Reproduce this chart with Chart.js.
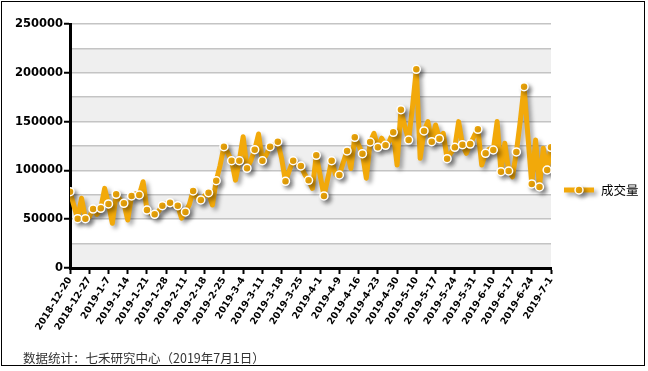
<!DOCTYPE html>
<html><head><meta charset="utf-8">
<script src="https://cdn.jsdelivr.net/npm/chart.js@4/dist/chart.umd.min.js"></script>
<style>
html,body{margin:0;padding:0;background:#fff;}
#wrap{position:relative;width:648px;height:371px;}
#frame{position:absolute;left:1px;top:1px;width:642px;height:363px;border:1px solid #000;pointer-events:none;}
#foot{position:absolute;left:23px;top:348px;font:12.5px "Noto Sans CJK SC","Liberation Sans",sans-serif;color:#333;white-space:nowrap;}
canvas{position:absolute;left:0;top:0;}
</style></head>
<body><div id="wrap"><canvas id="c" width="648" height="371"></canvas><div id="frame"></div>
<div id="foot">数据统计：七禾研究中心（2019年7月1日）</div></div>
<script>
const seriesName = '成交量';
const tickLabels = ['2018-12-20','2018-12-27','2019-1-7','2019-1-14','2019-1-21','2019-1-28','2019-2-11','2019-2-18','2019-2-25','2019-3-4','2019-3-11','2019-3-18','2019-3-25','2019-4-1','2019-4-9','2019-4-16','2019-4-23','2019-4-30','2019-5-10','2019-5-17','2019-5-24','2019-5-31','2019-6-10','2019-6-17','2019-6-24','2019-7-1'];
const volume = [
78200,64000,50500,71400,50500,52000,60400,55000,61200,81600,
65600,45800,75500,70000,66300,49200,73800,76000,74800,88400,
59400,56000,55000,58000,63800,66000,66900,64000,63800,51000,
57400,65000,78900,72000,69700,74000,77200,64500,89400,105000,
124300,118000,109900,90000,109900,134500,102100,110000,121200,137300,
109900,116000,124300,126000,129400,112000,88800,100000,109900,106000,
104500,96000,89800,81600,115400,95000,73800,92000,109900,96000,
95300,108000,119900,102000,133900,126000,117100,92000,129100,138000,
123600,133000,125700,130000,139000,105500,162200,145000,131100,165000,
203600,112400,140400,150000,129400,146500,132500,138000,112000,118000,
123600,150000,126300,117500,127000,135000,142100,105500,117500,122000,
120900,150000,98700,127800,99400,93500,118900,150000,185800,135000,
86100,131100,83000,122600,100400,123700];
const yTicks = [0,50000,100000,150000,200000,250000];

const ORANGE = '#F2A90A';
const lastIdx = volume.length - 1;
const points = volume.map((v,i)=>({x:i,y:v}));

const bands = {
  id:'bands',
  beforeDraw(chart){
    const {ctx, chartArea:a, scales:{y}} = chart;
    ctx.save();
    ctx.fillStyle = '#EFEFEF';
    for (let v=0; v<250000; v+=50000){
      const t = y.getPixelForValue(v+25000), b = y.getPixelForValue(v);
      ctx.fillRect(a.left, t, a.right-a.left, b-t);
    }
    ctx.restore();
  }
};
const shadow = {
  id:'shadow',
  beforeDatasetDraw(chart){
    const c = chart.ctx; c.save();
    c.shadowColor='rgba(0,0,0,0.35)'; c.shadowBlur=4; c.shadowOffsetX=3; c.shadowOffsetY=3;
  },
  afterDatasetDraw(chart){ chart.ctx.restore(); }
};
const legendPlug = {
  id:'legendPlug',
  afterDraw(chart){
    const c = chart.ctx; c.save();
    c.shadowColor='rgba(0,0,0,0.35)'; c.shadowBlur=4; c.shadowOffsetX=3; c.shadowOffsetY=3;
    c.strokeStyle=ORANGE; c.lineWidth=5; c.lineCap='butt';
    c.beginPath(); c.moveTo(564,190); c.lineTo(594,190); c.stroke();
    c.beginPath(); c.arc(579,190,4,0,Math.PI*2); c.fillStyle=ORANGE; c.fill();
    c.lineWidth=1.5; c.strokeStyle='#fff'; c.stroke();
    c.restore();
    c.save();
    c.font='12.5px "Noto Sans CJK SC", sans-serif'; c.fillStyle='#000'; c.textBaseline='middle';
    c.fillText(seriesName, 601, 190);
    c.restore();
  }
};

new Chart(document.getElementById('c'), {
  type:'line',
  data:{ datasets:[{
    label: seriesName,
    data: points,
    borderColor: ORANGE,
    borderWidth: 5,
    borderJoinStyle: 'round',
    borderCapStyle: 'round',
    tension: 0,
    pointBackgroundColor: ORANGE,
    pointBorderColor: '#fff',
    pointBorderWidth: 1.5,
    pointRadius: ctx => (ctx.dataIndex % 2 === 0 || ctx.dataIndex === lastIdx) ? 4 : 0,
    fill:false
  }]},
  options:{
    responsive:false, animation:false, events:[],
    layout:{padding:{top:24,right:97,left:0,bottom:0}},
    plugins:{legend:{display:false}, tooltip:{enabled:false}},
    scales:{
      x:{
        type:'linear', min:0, max:lastIdx,
        afterFit: s => { s.height = 103; },
        afterBuildTicks: s => { s.ticks = tickLabels.map((_,k)=>({value:k*5})); },
        ticks:{ autoSkip:false, minRotation:58, maxRotation:58, padding:1,
          color:'#000', font:{family:'"DejaVu Sans", Verdana, sans-serif', size:9.5, weight:'bold'},
          callback: v => tickLabels[Math.round(v/5)] },
        grid:{ drawOnChartArea:false, drawTicks:true, tickLength:6, tickColor:'#000', tickWidth:2 },
        border:{ display:true, color:'#000', width:3 }
      },
      y:{
        min:0, max:250000,
        afterFit: s => { s.width = 70; },
        afterBuildTicks: s => { const t=[]; for(let v=0; v<=250000; v+=25000) t.push({value:v}); s.ticks=t; },
        ticks:{ autoSkip:false, padding:1, color:'#000',
          font:{family:'"DejaVu Sans", Verdana, sans-serif', size:11.5, weight:'bold'},
          callback: v => yTicks.includes(v) ? String(v) : '' },
        grid:{ color: ctx => ctx.tick && ctx.tick.value===0 ? 'transparent' : '#C4C4C4', lineWidth:1.5,
          drawTicks:true, tickLength:6, tickWidth:2,
          tickColor: ctx => (ctx.tick && ctx.tick.value % 50000 === 0) ? '#000' : 'transparent' },
        border:{ display:true, color:'#000', width:3 }
      }
    }
  },
  plugins:[bands, shadow, legendPlug]
});
</script></body></html>
